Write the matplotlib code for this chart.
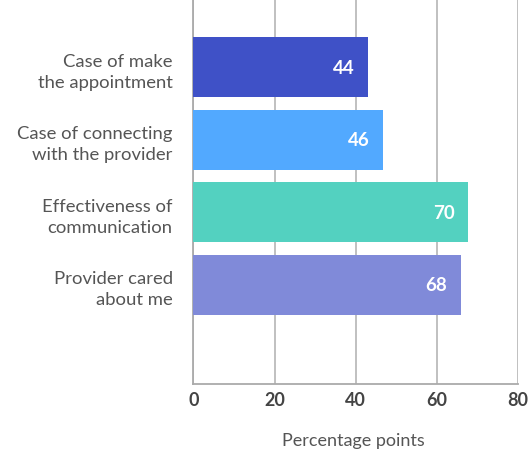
import matplotlib
matplotlib.use("Agg")
import matplotlib.pyplot as plt

categories = ["Case of make\nthe appointment", "Case of connecting\nwith the provider",
              "Effectiveness of\ncommunication", "Provider cared\nabout me"]
values = [43.0, 46.8, 67.8, 65.9]
value_labels = ["44", "46", "70", "68"]
colors = ["#3F51C7", "#52A9FF", "#53D1C0", "#808AD9"]
xticks = [0, 20, 40, 60, 80]

plt.rcParams['font.family'] = ['Lato', 'DejaVu Sans']

fig = plt.figure(figsize=(5.31, 4.52), dpi=100)
ax = fig.add_axes([0.3644, 0.148, 0.6106, 0.852])

pos = list(range(len(categories)))
ax.barh(pos, values, height=0.83, color=colors, zorder=3)
for p, v, lab in zip(pos, values, value_labels):
    ax.text(v - 3.3, p, lab, ha='right', va='center', color='white',
            fontsize=13.5, fontweight='bold', zorder=4)

ax.set_xlim(0, 80)
ax.set_ylim(4.37, -0.94)
ax.set_xticks(xticks)
ax.set_xticklabels([str(t) for t in xticks], fontsize=13, fontweight='bold', color='#444444')
ax.set_yticks(pos)
ax.set_yticklabels(categories, fontsize=13.3, color='#555555', linespacing=1.4)
ax.tick_params(axis='y', length=0, pad=15)
ax.tick_params(axis='x', length=0, pad=5)
ax.grid(axis='x', color='#BBBBBB', linewidth=1.3, zorder=0)
for s in ['top', 'right']:
    ax.spines[s].set_visible(False)
for s in ['left', 'bottom']:
    ax.spines[s].set_color('#AAAAAA')
    ax.spines[s].set_linewidth(1.3)
fig.text(0.665, 0.014, "Percentage points", fontsize=13, color='#555555',
         ha='center', va='baseline')

fig.savefig("out.png", dpi=100)
